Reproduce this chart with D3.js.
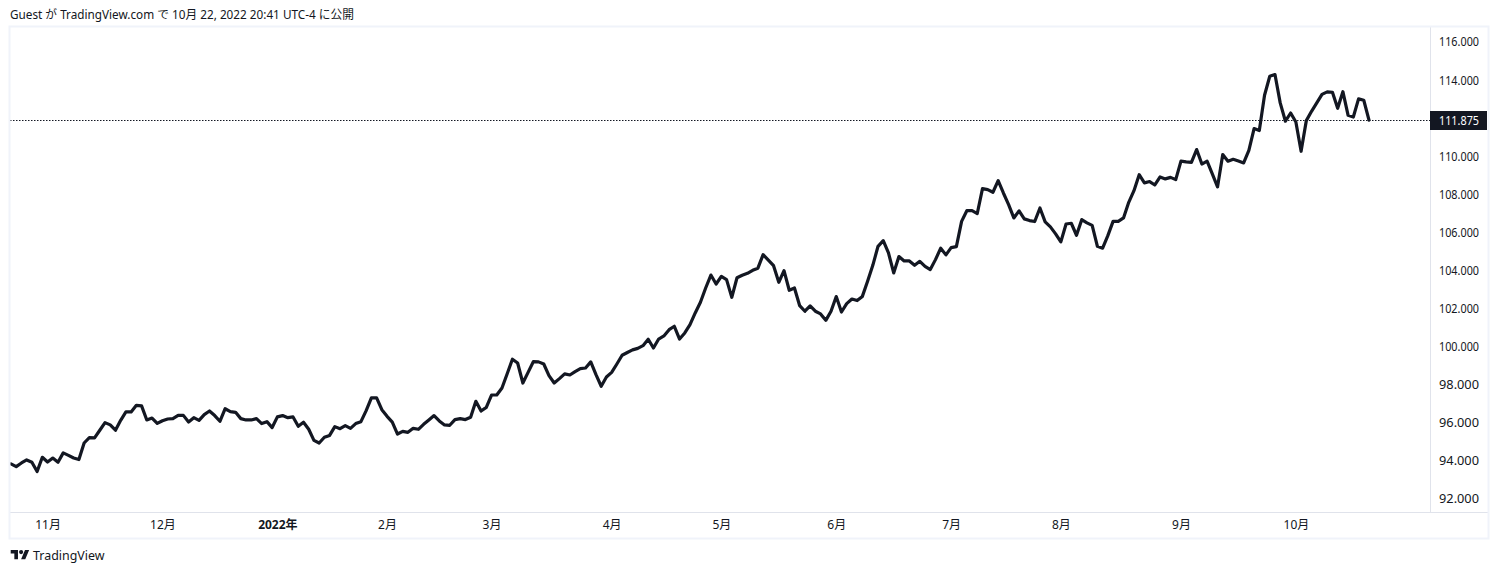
<!DOCTYPE html>
<html><head><meta charset="utf-8">
<script src="https://cdn.jsdelivr.net/npm/d3@7"></script>
<style>html,body{margin:0;padding:0;background:#fff}svg{display:block}</style>
</head><body><svg id="c" width="1498" height="573"></svg>
<script>
const closes = [
93.82,93.68,93.87,94.03,93.91,93.42,94.17,93.92,94.13,93.91,94.40,94.27,94.13,94.05,94.92,95.20,95.19,95.59,95.99,95.87,95.59,96.11,96.55,96.55,96.90,96.87,96.13,96.23,95.95,96.09,96.18,96.20,96.37,96.37,96.02,96.25,96.11,96.41,96.60,96.36,96.06,96.72,96.57,96.53,96.20,96.13,96.13,96.20,
95.94,96.04,95.73,96.29,96.36,96.25,96.29,95.80,96.01,95.64,95.06,94.92,95.22,95.32,95.78,95.67,95.83,95.69,95.94,96.04,96.62,97.29,97.29,96.67,96.32,96.02,95.39,95.53,95.48,95.69,95.64,95.90,96.13,96.36,96.08,95.87,95.85,96.15,96.20,96.15,96.27,97.11,96.60,96.79,97.44,97.44,97.81,
98.56,99.32,99.12,98.07,98.63,99.19,99.18,99.07,98.46,98.07,98.30,98.55,98.49,98.67,98.83,98.86,99.18,98.51,97.90,98.39,98.63,99.07,99.53,99.67,99.81,99.89,100.03,100.37,99.91,100.38,100.54,100.87,101.05,100.38,100.70,101.14,101.75,102.31,103.06,103.74,103.27,103.67,103.50,102.57,103.60,
103.73,103.83,103.99,104.10,104.81,104.52,104.23,103.36,103.97,102.94,103.06,102.13,101.84,102.12,101.84,101.70,101.36,101.84,102.61,101.80,102.24,102.48,102.40,102.62,103.41,104.25,105.25,105.55,104.90,103.85,104.71,104.48,104.48,104.25,104.46,104.20,104.03,104.55,105.15,104.80,105.18,105.23,
106.56,107.12,107.12,106.97,108.28,108.23,108.09,108.70,108.05,107.44,106.74,107.11,106.69,106.60,106.55,107.26,106.53,106.27,105.90,105.48,106.42,106.46,105.83,106.65,106.48,106.35,105.25,105.15,105.81,106.56,106.56,106.74,107.56,108.17,109.01,108.58,108.65,108.47,108.89,
108.79,108.87,108.75,109.72,109.68,109.66,110.33,109.57,109.72,109.05,108.37,110.07,109.72,109.82,109.73,109.63,110.29,111.43,111.33,113.18,114.18,114.27,112.78,111.82,112.25,111.78,110.24,111.85,112.34,112.78,113.23,113.36,113.34,112.50,113.37,112.13,112.04,112.99,112.92,111.875
];
const monthLabels = ["11月","12月","2022年","2月","3月","4月","5月","6月","7月","8月","9月","10月"];
const monthIndex  = [7,29,51,72,92,115,136,158,180,201,224,246];
const priceTicks  = [92,94,96,98,100,102,104,106,108,110,112,114,116];
const lastPrice   = 111.875;
const headerText  = "Guest が TradingView.com で 10月 22, 2022 20:41 UTC-4 に公開";

const FONT = "'Noto Sans','Noto Sans CJK JP',sans-serif";
const INK = "#131722";
const svg = d3.select("#c").style("font-family", FONT);
const L = 10, R = 1488, T = 27, B = 538, AX = 1430.5, AY = 512.5;

const x = d3.scaleLinear().domain([0, closes.length - 1]).range([11, 1369]);
const y = d3.scaleLinear().domain([92, 116]).range([498.6, 41.6]);
const lastY = Math.floor(y(lastPrice)) + 0.5;

svg.append("text").attr("x", 10).attr("y", 19).attr("font-size", 12).attr("fill", INK)
  .attr("textLength", 344).attr("lengthAdjust", "spacingAndGlyphs").text(headerText);

svg.append("defs").append("clipPath").attr("id", "plot").append("rect")
  .attr("x", L).attr("y", T).attr("width", AX - L).attr("height", AY - T);

svg.append("line").attr("x1", L).attr("x2", AX).attr("y1", lastY).attr("y2", lastY)
  .attr("stroke", INK).attr("stroke-width", 1).attr("stroke-dasharray", "1.5 1.5");

svg.append("path").datum(closes).attr("clip-path", "url(#plot)")
  .attr("fill", "none").attr("stroke", INK).attr("stroke-width", 3.2)
  .attr("stroke-linejoin", "round").attr("stroke-linecap", "round")
  .attr("d", d3.line().x((d, i) => x(i)).y(d => y(d)));

// axis lines and frame
svg.append("line").attr("x1", AX).attr("x2", AX).attr("y1", T).attr("y2", AY).attr("stroke", "#e0e3eb");
svg.append("line").attr("x1", L).attr("x2", R).attr("y1", AY).attr("y2", AY).attr("stroke", "#e0e3eb");
svg.append("rect").attr("x", L - 0.5).attr("y", T - 0.5).attr("width", R - L + 1).attr("height", B - T + 1)
  .attr("fill", "none").attr("stroke", "#f0f3fa").attr("stroke-width", 2);

// price axis
const yAxis = d3.axisRight(y).tickValues(priceTicks.filter(d => d !== 112)).tickFormat(d3.format(".3f")).tickSize(0).tickPadding(0);
const gy = svg.append("g").attr("transform", `translate(1439,0.5)`).call(yAxis);
gy.select(".domain").remove();
gy.selectAll("text").attr("font-size", 12).attr("font-family", FONT).attr("fill", INK)
  .attr("textLength", 40).attr("lengthAdjust", "spacingAndGlyphs");

// last price tag
svg.append("rect").attr("x", 1430).attr("y", lastY - 9.5).attr("width", 57).attr("height", 19).attr("fill", INK);
svg.append("text").attr("x", 1439).attr("y", lastY).attr("dy", "0.35em").attr("font-size", 12).attr("fill", "#fff")
  .attr("textLength", 40).attr("lengthAdjust", "spacingAndGlyphs")
  .text(d3.format(".3f")(lastPrice));

// time axis
const xAxis = d3.axisBottom(x).tickValues(monthIndex).tickFormat((d, i) => monthLabels[i]).tickSize(0).tickPadding(0);
const gx = svg.append("g").attr("transform", `translate(0,520)`).call(xAxis);
gx.select(".domain").remove();
gx.selectAll("text").attr("font-size", 12).attr("font-family", FONT).attr("fill", INK)
  .attr("font-weight", (d, i) => monthLabels[i].includes("年") ? 700 : 400);

// brand
const logo = svg.append("g").attr("transform", "translate(10.7,547.9) scale(0.52)").attr("fill", INK);
logo.append("path").attr("d", "M14 22H7V11H0V4h14v18zM28 22h-8l7.5-18h8L28 22z");
logo.append("circle").attr("cx", 20).attr("cy", 8).attr("r", 4);
svg.append("text").attr("x", 33).attr("y", 560).attr("font-size", 13).attr("fill", INK)
  .attr("textLength", 71.5).attr("lengthAdjust", "spacingAndGlyphs").text("TradingView");
</script></body></html>
